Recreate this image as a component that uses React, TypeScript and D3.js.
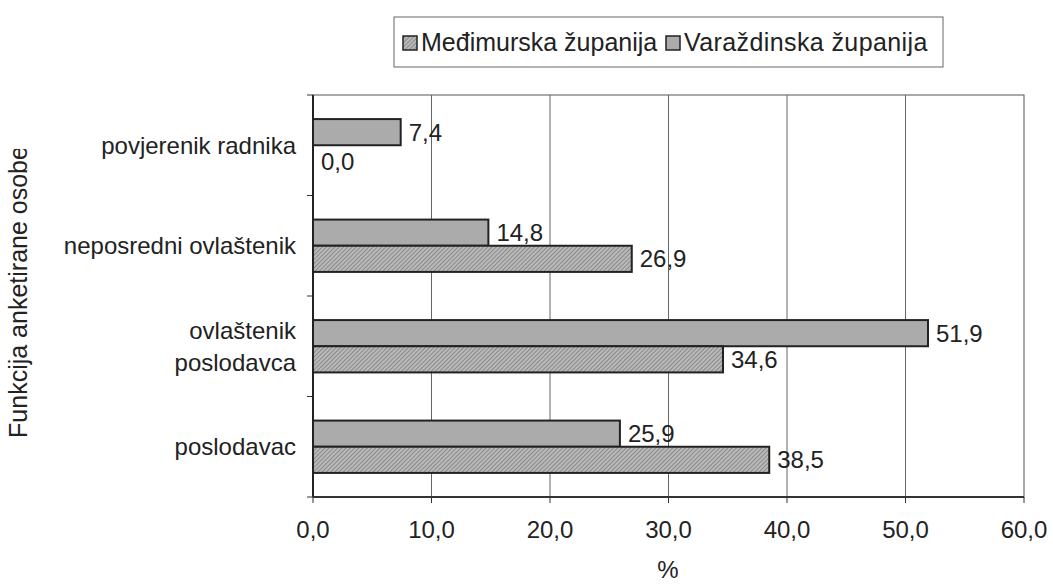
import React from "react";
import * as d3 from "d3";

const categories = ["povjerenik radnika", "neposredni ovlaštenik", "ovlaštenik poslodavca", "poslodavac"];
const categoryLines = [["povjerenik radnika"], ["neposredni ovlaštenik"], ["ovlaštenik ", "poslodavca"], ["poslodavac"]];
const seriesNames = ["Međimurska županija", "Varaždinska županija"];
const varazdinska = [7.4, 14.8, 51.9, 25.9];
const medimurska = [0.0, 26.9, 34.6, 38.5];
const xTicks = [0, 10, 20, 30, 40, 50, 60];

const W = 1053, H = 586;
const left = 313, right = 1024, top = 95, bottom = 497;

export default function App() {
  const x = d3.scaleLinear().domain([0, 60]).range([left, right]);
  const y = d3.scaleBand<string>().domain(categories).range([top, bottom]).paddingInner(0).paddingOuter(0);
  const inner = d3.scaleBand<string>().domain(["v", "m"]).range([0, y.bandwidth()]).paddingInner(0).paddingOuter(0.92);
  const fmt = (v: number) => v.toFixed(1).replace(".", ",");
  const font = "'Liberation Sans', Arial, sans-serif";
  const fs = 24;
  const bandEdges = categories.map((c) => y(c)!).concat([bottom]);

  return (
    <svg width={W} height={H} style={{ position: "absolute", left: 0, top: 0, background: "#fff" }} fontFamily={font}>
      <defs>
        <pattern id="hatch" patternUnits="userSpaceOnUse" width="3" height="3" patternTransform="rotate(45)">
          <rect width="3" height="3" fill="#b9b9b9" />
          <line x1="0" y1="0" x2="0" y2="3" stroke="#707070" strokeWidth="1.3" />
        </pattern>
        <clipPath id="ytitleclip">
          <rect x="0" y="149" width="40" height="400" />
        </clipPath>
      </defs>
      <rect width={W} height={H} fill="#fff" />
      {/* plot frame */}
      <rect x={left} y={top} width={right - left} height={bottom - top} fill="none" stroke="#555" strokeWidth={1} />
      {xTicks.slice(1, -1).map((t) => (
        <line key={t} x1={x(t)} x2={x(t)} y1={top} y2={bottom} stroke="#666" strokeWidth={1} />
      ))}
      {/* bars */}
      {categories.map((c, i) => (
        <g key={c}>
          <rect x={x(0)} y={y(c)! + inner("v")!} width={x(varazdinska[i]) - x(0)} height={inner.bandwidth()}
            fill="#ababab" stroke="#222" strokeWidth={2} />
          {medimurska[i] > 0 && (
            <rect x={x(0)} y={y(c)! + inner("m")!} width={x(medimurska[i]) - x(0)} height={inner.bandwidth()}
              fill="url(#hatch)" stroke="#222" strokeWidth={2} />
          )}
          <text x={x(varazdinska[i]) + 8} y={y(c)! + inner("v")! + inner.bandwidth() / 2} dy="0.35em" fontSize={fs} fill="#222">
            {fmt(varazdinska[i])}
          </text>
          <text x={medimurska[i] > 0 ? x(medimurska[i]) + 8 : x(0) + 8}
            y={y(c)! + inner("m")! + inner.bandwidth() / 2 + (medimurska[i] > 0 ? 0 : 3)} dy="0.35em" fontSize={fs} fill="#222">
            {fmt(medimurska[i])}
          </text>
        </g>
      ))}
      {/* axes */}
      <line x1={left} x2={left} y1={top} y2={bottom} stroke="#222" strokeWidth={2} />
      <line x1={left} x2={right} y1={bottom} y2={bottom} stroke="#333" strokeWidth={2} />
      {bandEdges.map((b, i) => (
        <line key={i} x1={left - 6} x2={left} y1={b} y2={b} stroke="#333" strokeWidth={1} />
      ))}
      {xTicks.map((t) => (
        <g key={t}>
          <line x1={x(t)} x2={x(t)} y1={bottom} y2={bottom + 6} stroke="#333" strokeWidth={1} />
          <text x={x(t)} y={530} dy="0.35em" textAnchor="middle" fontSize={fs} fill="#222">{fmt(t)}</text>
        </g>
      ))}
      {/* category labels */}
      {categories.map((c, i) => {
        const lines = categoryLines[i];
        const cy = y(c)! + y.bandwidth() / 2;
        return lines.map((ln, j) => (
          <text key={c + j} x={296} y={cy + (j - (lines.length - 1) / 2) * 32} dy="0.35em" textAnchor="end" fontSize={fs} fill="#222">
            {ln}
          </text>
        ));
      })}
      {/* axis titles */}
      <g clipPath="url(#ytitleclip)">
        <text transform="translate(18,292) rotate(-90)" textAnchor="middle" dy="0.35em" fontSize={25} fill="#222">
          Funkcija anketirane osobe
        </text>
      </g>
      <text x={668} y={578} textAnchor="middle" fontSize={fs} fill="#222">%</text>
      {/* legend */}
      <rect x={394} y={17} width={549} height={50} fill="#fff" stroke="#666" strokeWidth={1} />
      <rect x={403} y={36} width={14} height={14} fill="url(#hatch)" stroke="#222" strokeWidth={1.5} />
      <text x={421} y={42} dy="0.35em" fontSize={25} fill="#222">{seriesNames[0]}</text>
      <rect x={666} y={36} width={14} height={14} fill="#ababab" stroke="#222" strokeWidth={1.5} />
      <text x={684} y={42} dy="0.35em" fontSize={25} fill="#222" letterSpacing={0.4}>{seriesNames[1]}</text>
    </svg>
  );
}
